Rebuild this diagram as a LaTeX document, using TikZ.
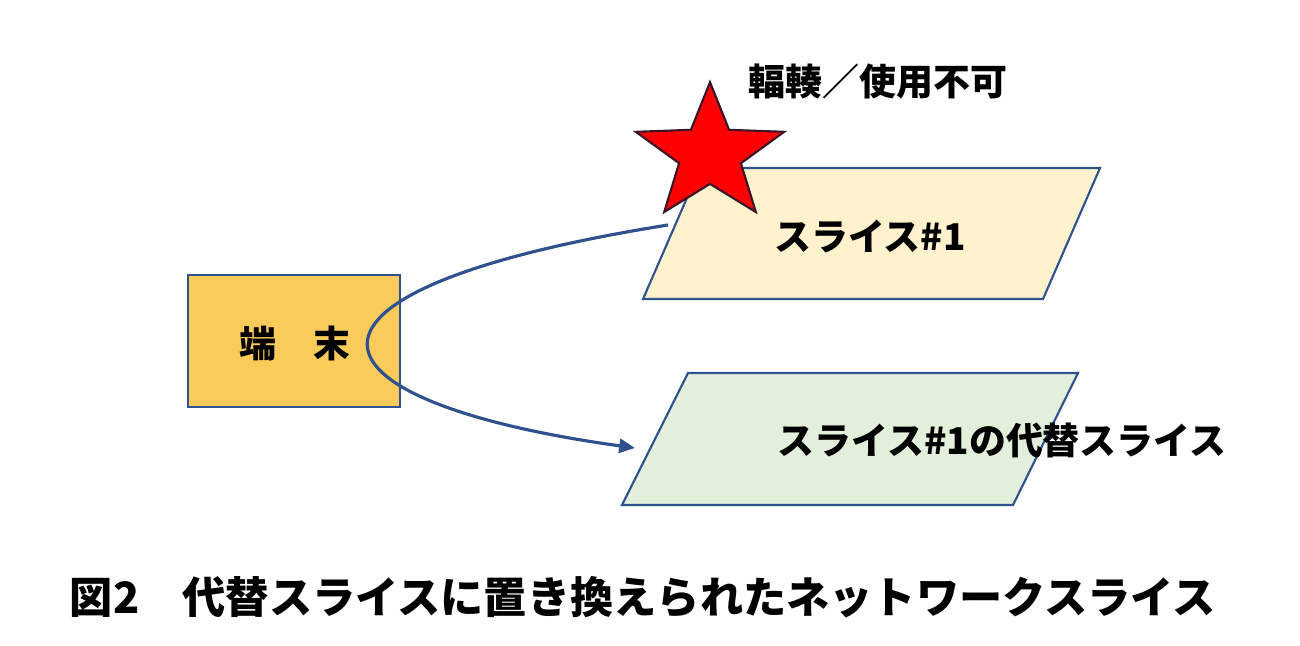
\documentclass[tikz,border=0pt]{standalone}
\usepackage{fontspec}
\setmainfont{Noto Sans CJK JP}
\usetikzlibrary{shapes.geometric,arrows.meta}
\definecolor{edge}{HTML}{2F528F}
\begin{document}
\begin{tikzpicture}[x=0.02cm,y=-0.02cm,
  lbl/.style={font=\bfseries\fontsize{21}{24}\selectfont, inner sep=0},
  shp/.style={draw=edge, line width=1.2pt}]
\useasboundingbox (0,0) rectangle (1300,645);
\node[shp, fill={rgb,255:red,249;green,203;blue,90}, minimum width=212*0.02cm, minimum height=132*0.02cm, inner sep=0] (term) at (294,341) {};
\node[lbl] at (295,343) {端　末};
\filldraw[shp, fill={rgb,255:red,255;green,242;blue,204}] (643,299) -- (700,168) -- (1100,168) -- (1043,299) -- cycle;
\filldraw[shp, fill={rgb,255:red,226;green,239;blue,218}] (622,505) -- (688,373) -- (1078,373) -- (1013,505) -- cycle;
\node[lbl] (s1) at (870,237) {スライス\#1};
\node[lbl] (s2) at (1002,440) {スライス\#1の代替スライス};
\coordinate (a) at (668,225);
\coordinate (b) at (635,448);
\draw[edge, line width=1.8pt, -{Triangle[length=9pt,width=8pt]}] (a) .. controls (260,290) and (290,400) .. (b);
\node[star, star points=5, star point ratio=2.4, minimum size=156*0.02cm, inner sep=0, fill=red, draw={rgb,255:red,60;green,20;blue,40}, line width=1.2pt, yscale=0.92] (st) at (710,154) {};
\node[lbl] (cong) at (878,82) {輻輳／使用不可};
\node[font=\bfseries\fontsize{24.6}{28}\selectfont, inner sep=0] (cap) at (643,597) {図2　代替スライスに置き換えられたネットワークスライス};
\end{tikzpicture}
\end{document}
